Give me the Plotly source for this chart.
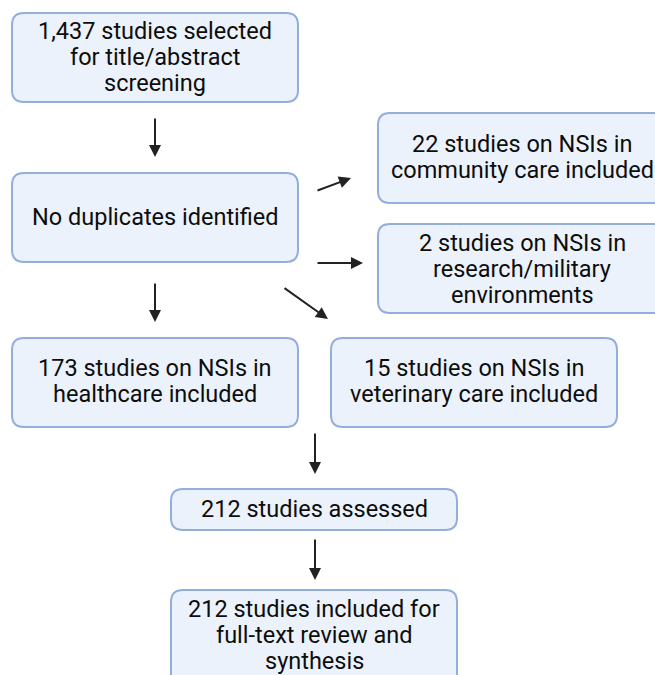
import plotly.graph_objects as go

# ---- data ----
counts = [1437, 22, 2, 173, 15, 212, 212]
labels = [
    "1,437 studies selected<br>for title/abstract<br>screening",
    "No duplicates identified",
    "22 studies on NSIs in<br>community care included",
    "2 studies on NSIs in<br>research/military<br>environments",
    "173 studies on NSIs in<br>healthcare included",
    "15 studies on NSIs in<br>veterinary care included",
    "212 studies assessed",
    "212 studies included for<br>full-text review and<br>synthesis",
]

# ---- layout (pixel coordinates, y downward) ----
boxes = [  # x0, y0, x1, y1, text center y
    (12, 13, 298, 102, 57),
    (12, 173, 298, 262, 217),
    (378, 113, 666, 203, 157),
    (378, 224, 666, 313, 269),
    (12, 338, 298, 427, 381),
    (331, 338, 617, 427, 381),
    (171, 489, 457, 530, 509),
    (171, 590, 457, 700, 635),
]
arrows = [  # tail x, tail y, head x, head y
    (155, 117, 155, 157),
    (316, 191, 351, 178),
    (316, 263, 363, 263),
    (283, 287, 328, 319),
    (155, 282, 155, 322),
    (315, 432, 315, 474),
    (315, 538, 315, 580),
]

FILL = "#ECF2FB"
EDGE = "#93AEDB"
R = 12
LINE_H = 26.3

def rrect(x0, y0, x1, y1, r=R):
    return (f"M{x0+r},{y0} L{x1-r},{y0} Q{x1},{y0} {x1},{y0+r} "
            f"L{x1},{y1-r} Q{x1},{y1} {x1-r},{y1} L{x0+r},{y1} "
            f"Q{x0},{y1} {x0},{y1-r} L{x0},{y0+r} Q{x0},{y0} {x0+r},{y0} Z")

fig = go.Figure()
shapes = []
annos = []
for (x0, y0, x1, y1, cy), txt in zip(boxes, labels):
    shapes.append(dict(type="path", path=rrect(x0, y0, x1, y1), xref="x", yref="y",
                       fillcolor=FILL, line=dict(color=EDGE, width=2), layer="below"))
    lines = txt.split("<br>")
    n = len(lines)
    for i, ln in enumerate(lines):
        annos.append(dict(x=(x0 + x1) / 2, y=cy + (i - (n - 1) / 2) * LINE_H,
                          xref="x", yref="y", text=ln,
                          showarrow=False, align="center", xanchor="center", yanchor="middle",
                          font=dict(family="Roboto", size=23.5, color="#0d0d0d")))
for tx, ty, hx, hy in arrows:
    annos.append(dict(x=hx, y=hy, ax=tx, ay=ty, xref="x", yref="y", axref="x", ayref="y",
                      text="", showarrow=True, arrowhead=2, arrowsize=1.2, arrowwidth=2,
                      arrowcolor="#222222"))

fig.update_layout(
    width=655, height=675, margin=dict(l=0, r=0, t=0, b=0),
    paper_bgcolor="white", plot_bgcolor="white",
    xaxis=dict(range=[0, 655], visible=False, fixedrange=True),
    yaxis=dict(range=[675, 0], visible=False, fixedrange=True),
    shapes=shapes, annotations=annos, showlegend=False,
)
fig.write_html(
    "out.html",
    config={"displayModeBar": False},
    post_script="document.body.style.margin='0';document.body.style.overflow='hidden';",
)
